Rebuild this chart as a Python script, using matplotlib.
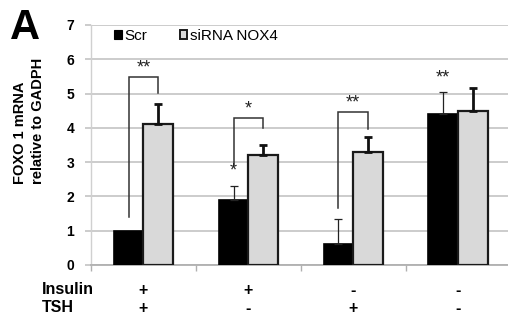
import matplotlib
matplotlib.use("Agg")
import matplotlib.pyplot as plt
import matplotlib.transforms as mtransforms
from matplotlib.patches import Patch
import numpy as np

plt.rcParams['font.family'] = ['Liberation Sans', 'DejaVu Sans']

# ---- data ----
groups = [0, 1, 2, 3]
scr_vals = [1.0, 1.9, 0.6, 4.4]
scr_err = [0.0, 0.4, 0.75, 0.65]
sirna_vals = [4.1, 3.2, 3.3, 4.5]
sirna_err = [0.6, 0.3, 0.43, 0.65]
insulin = ['+', '+', '-', '-']
tsh = ['+', '-', '+', '-']
series_names = ['Scr', 'siRNA NOX4']
yticks = [0, 1, 2, 3, 4, 5, 6, 7]

# significance brackets (group, left-leg bottom, top, right-leg bottom, label)
br_group = [0, 1, 2]
br_left_bottom = [1.4, 2.92, 1.66]
br_top = [5.48, 4.29, 4.46]
br_right_bottom = [5.01, 4.0, 3.96]
br_label = ['**', '*', '**']
# single-bar stars above Scr bars
star_group = [1, 3]
star_y = [2.5, 5.2]
star_label = ['*', '**']

W, H = 508, 324
fig = plt.figure(figsize=(W / 100, H / 100), dpi=100)
ax_l, ax_r, ax_t, ax_b = 91, 510.5, 25, 265
ax = fig.add_axes([ax_l / W, 1 - ax_b / H, (ax_r - ax_l) / W, (ax_b - ax_t) / H])

bw = 0.282
x = np.array(groups, dtype=float)
ax.bar(x - bw / 2, scr_vals, bw, color='black', edgecolor='black', linewidth=1.2, zorder=3)
ax.bar(x + bw / 2, sirna_vals, bw, color='#d9d9d9', edgecolor='#1a1a1a', linewidth=1.6, zorder=3)

# error bars (upper only)
for i in groups:
    if scr_err[i] > 0:
        ax.errorbar(x[i] - bw / 2, scr_vals[i], yerr=[[0], [scr_err[i]]], fmt='none',
                    ecolor='#222222', elinewidth=0.9, capsize=3, capthick=0.9, zorder=4)
    ax.errorbar(x[i] + bw / 2, sirna_vals[i], yerr=[[0], [sirna_err[i]]], fmt='none',
                ecolor='#111111', elinewidth=2.0, capsize=3, capthick=2.0, zorder=4)

# brackets
for g, lb, tp, rb, lab in zip(br_group, br_left_bottom, br_top, br_right_bottom, br_label):
    xl, xr = g - bw / 2, g + bw / 2
    ax.plot([xl, xl, xr, xr], [lb, tp, tp, rb], color='#333333', lw=1.1, zorder=5,
            solid_joinstyle='miter')
    ax.text((xl + xr) / 2, tp + 0.02, lab, ha='center', va='bottom', fontsize=13,
            color='#222222', zorder=6)
for g, yv, lab in zip(star_group, star_y, star_label):
    ax.text(g - bw / 2, yv, lab, ha='center', va='bottom', fontsize=13, color='#222222', zorder=6)

ax.set_xlim(-0.5, 3.5)
ax.set_ylim(0, 7)
ax.set_yticks(yticks)
ax.set_yticklabels([str(t) for t in yticks], fontsize=10, fontweight='bold')
ax.set_xticks([-0.5, 0.5, 1.5, 2.5, 3.5])
ax.set_xticklabels([])
ax.tick_params(axis='y', length=4, color='#c8c8c8', width=1.3, pad=8)
ax.tick_params(axis='x', length=4, color='#b0b0b0', width=1.0, direction='out')
ax.yaxis.grid(True, color='#c8c8c8', lw=1.3, zorder=0)
ax.set_axisbelow(True)
for s in ['right', 'top']:
    ax.spines[s].set_visible(False)
ax.spines['left'].set_color('#d0d0d0')
ax.spines['left'].set_linewidth(1.0)
ax.spines['bottom'].set_color('#b0b0b0')
ax.spines['bottom'].set_linewidth(1.3)

# legend
handles = [Patch(facecolor='black', edgecolor='black', lw=0.8),
           Patch(facecolor='#d9d9d9', edgecolor='#1a1a1a', lw=1.4)]
ax.legend(handles, series_names, ncol=2, loc='center left', bbox_to_anchor=(0.055, 0.955),
          frameon=False, fontsize=11, handlelength=0.5, handleheight=0.5,
          handletextpad=0.2, columnspacing=2.1, borderpad=0, borderaxespad=0)

# condition rows
trans = mtransforms.blended_transform_factory(ax.transData, fig.transFigure)
y_ins = 1 - 290 / H
y_tsh = 1 - 308 / H
fig.text(42 / W, y_ins, 'Insulin', ha='left', va='center', fontsize=11.5, fontweight='bold')
fig.text(42 / W, y_tsh, 'TSH', ha='left', va='center', fontsize=11.5, fontweight='bold')
for i in groups:
    ax.text(x[i], y_ins, insulin[i], transform=trans, ha='center', va='center',
            fontsize=11.5, fontweight='bold')
    ax.text(x[i], y_tsh, tsh[i], transform=trans, ha='center', va='center',
            fontsize=11.5, fontweight='bold')

# y label
fig.text(29 / W, 1 - 184 / H, 'FOXO 1 mRNA\nrelative to GADPH', rotation=90,
         ha='center', va='bottom', multialignment='left', fontsize=10.5,
         fontweight='bold', linespacing=1.3)

# panel letter
fig.text(10 / W, 1 - 39 / H, 'A', ha='left', va='baseline', fontsize=30, fontweight='bold')

fig.savefig('out.png', dpi=100)
